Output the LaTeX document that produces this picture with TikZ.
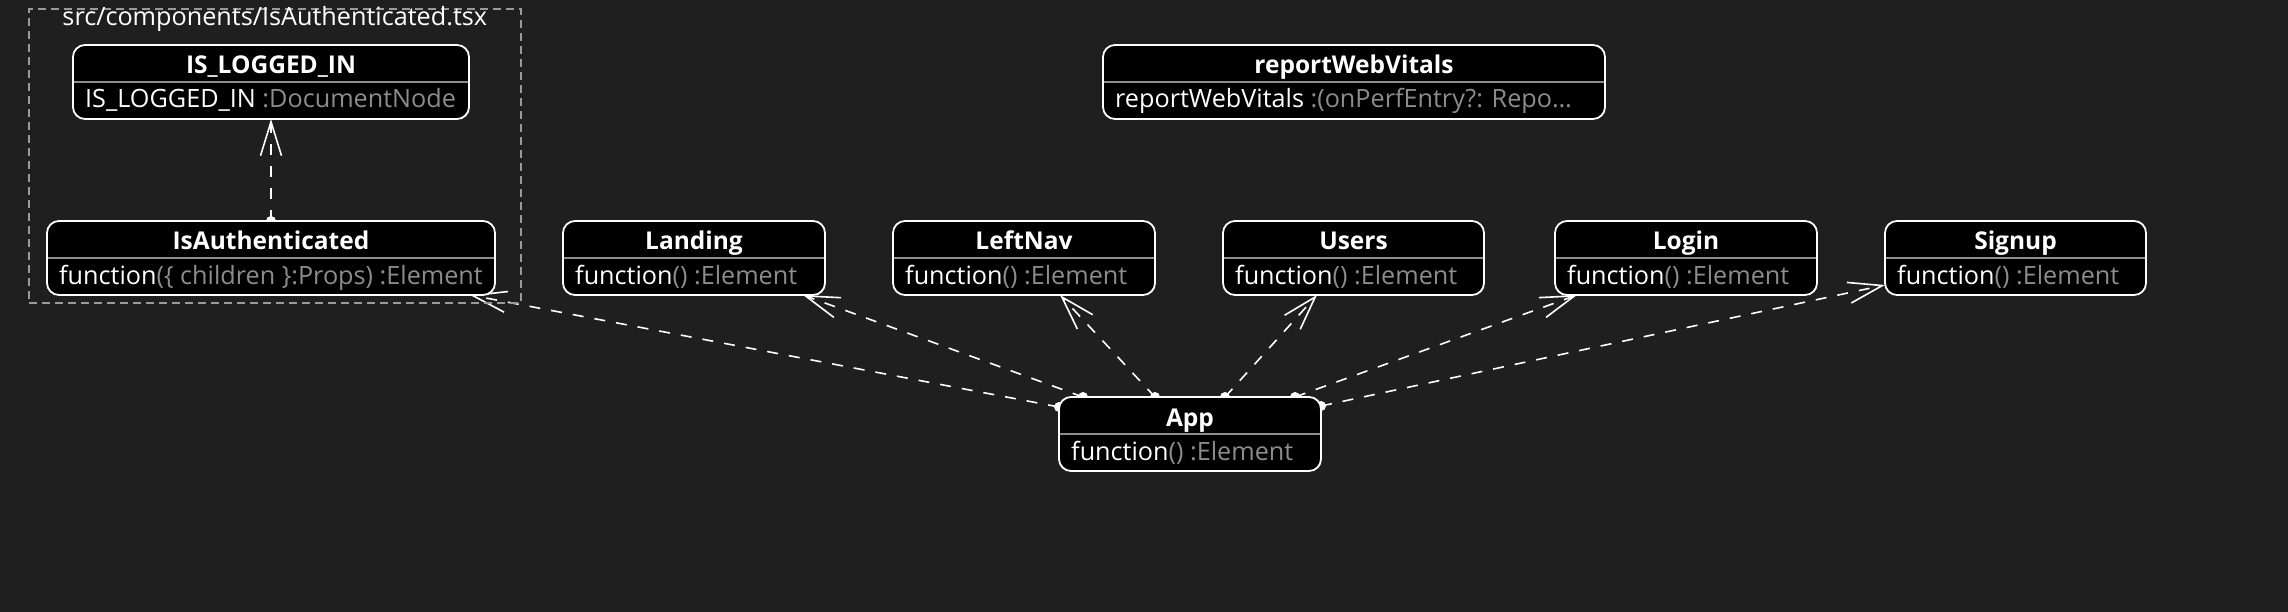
\documentclass[tikz,border=0pt]{standalone}
\usepackage{fontspec}
\setmainfont{Open Sans}
\usetikzlibrary{arrows.meta}
\definecolor{bgc}{HTML}{1F1F1F}
\definecolor{dimtext}{HTML}{8C8C8C}
\definecolor{divc}{HTML}{8C8C8C}
\definecolor{clc}{HTML}{9A9A9A}
\pgfdeclarelayer{bgl}
\pgfdeclarelayer{edgel}
\pgfsetlayers{bgl,edgel,main}
\tikzset{
  umlnode/.style={rectangle, rounded corners=12pt, draw=white, fill=black, line width=1.8pt,
    minimum height=74pt, inner sep=0pt, outer sep=0pt},
  divline/.style={draw=divc, line width=1.6pt},
  titletext/.style={anchor=base, inner sep=0pt, text=white, font=\bfseries\fontsize{24.5}{28}\selectfont},
  bodytext/.style={anchor=base west, inner sep=0pt, text=white, font=\fontsize{25.2}{29}\selectfont},
  cltext/.style={anchor=base, inner sep=0pt, text=white, font=\fontsize{25.2}{29}\selectfont},
  cluster/.style={rectangle, draw=clc, line width=1.4pt, dash pattern=on 8pt off 5pt,
    inner sep=0pt, outer sep=0pt},
  dep/.style={draw=white, line width=1.6pt, dash pattern=on 11pt off 11pt,
    -{Straight Barb[length=34pt,width=21pt]}},
  srcdot/.style={circle, fill=white, draw=none, minimum size=10pt, inner sep=0pt},
}
\newcommand\umlbox[6]{%
  \node[umlnode, minimum width=#4pt] (#1) at (#2,#3+37) {};
  \draw[divline] ([xshift=1pt,yshift=-37pt]#1.north west) -- ([xshift=-1pt,yshift=-37pt]#1.north east);
  \node[titletext] (#1-t) at ([yshift=-29pt]#1.north) {#5};
  \node[bodytext] (#1-b) at ([xshift=12pt,yshift=-63pt]#1.north west) {#6};
}
\begin{document}
\begin{tikzpicture}[x=1pt,y=-1pt]
\begin{pgfonlayer}{bgl}
  \fill[bgc] (0,0) rectangle (2288,612);
\end{pgfonlayer}
\useasboundingbox (0,0) rectangle (2288,612);

% cluster
\node[cluster, minimum width=492pt, minimum height=294pt] (cl) at (274.8,156) {};
\node[cltext] (cl-t) at ([yshift=-17pt]cl.north) {src/components/IsAuthenticated.tsx};

% boxes
\umlbox{islog}{271}{45}{396}{IS\_LOGGED\_IN}{IS\_LOGGED\_IN\ \textcolor{dimtext}{:DocumentNode}}
\umlbox{rwv}{1354}{45}{502}{reportWebVitals}{reportWebVitals\ \textcolor{dimtext}{:(onPerfEntry?: Repo…}}
\umlbox{isauth}{271}{221}{448}{IsAuthenticated}{function\textcolor{dimtext}{(\{ children \}:Props) :Element}}
\umlbox{landing}{694}{221}{262}{Landing}{function\textcolor{dimtext}{() :Element}}
\umlbox{leftnav}{1024}{221}{262}{LeftNav}{function\textcolor{dimtext}{() :Element}}
\umlbox{users}{1353.5}{221}{261}{Users}{function\textcolor{dimtext}{() :Element}}
\umlbox{login}{1686}{221}{262}{Login}{function\textcolor{dimtext}{() :Element}}
\umlbox{signup}{2015.5}{221}{261}{Signup}{function\textcolor{dimtext}{() :Element}}
\umlbox{app}{1190}{397}{262}{App}{function\textcolor{dimtext}{() :Element}}

% connectors
\begin{pgfonlayer}{edgel}
  \draw[dep] (isauth.north) node[srcdot]{} -- (islog.south);
  \draw[dep] ([yshift=-10pt]app.north west) node[srcdot]{} -- ([xshift=-25pt]isauth.south east);
  \draw[dep] ([xshift=24pt]app.north west) node[srcdot]{} -- ([xshift=-22pt]landing.south east);
  \draw[dep] ([xshift=96pt]app.north west) node[srcdot]{} -- ([xshift=-95pt]leftnav.south east);
  \draw[dep] ([xshift=166pt]app.north west) node[srcdot]{} -- ([xshift=94pt]users.south west);
  \draw[dep] ([xshift=-26pt]app.north east) node[srcdot]{} -- ([xshift=22pt]login.south west);
  \draw[dep] ([yshift=-9pt]app.north east) node[srcdot]{} -- ([yshift=10pt]signup.south west);
\end{pgfonlayer}
\end{tikzpicture}
\end{document}
